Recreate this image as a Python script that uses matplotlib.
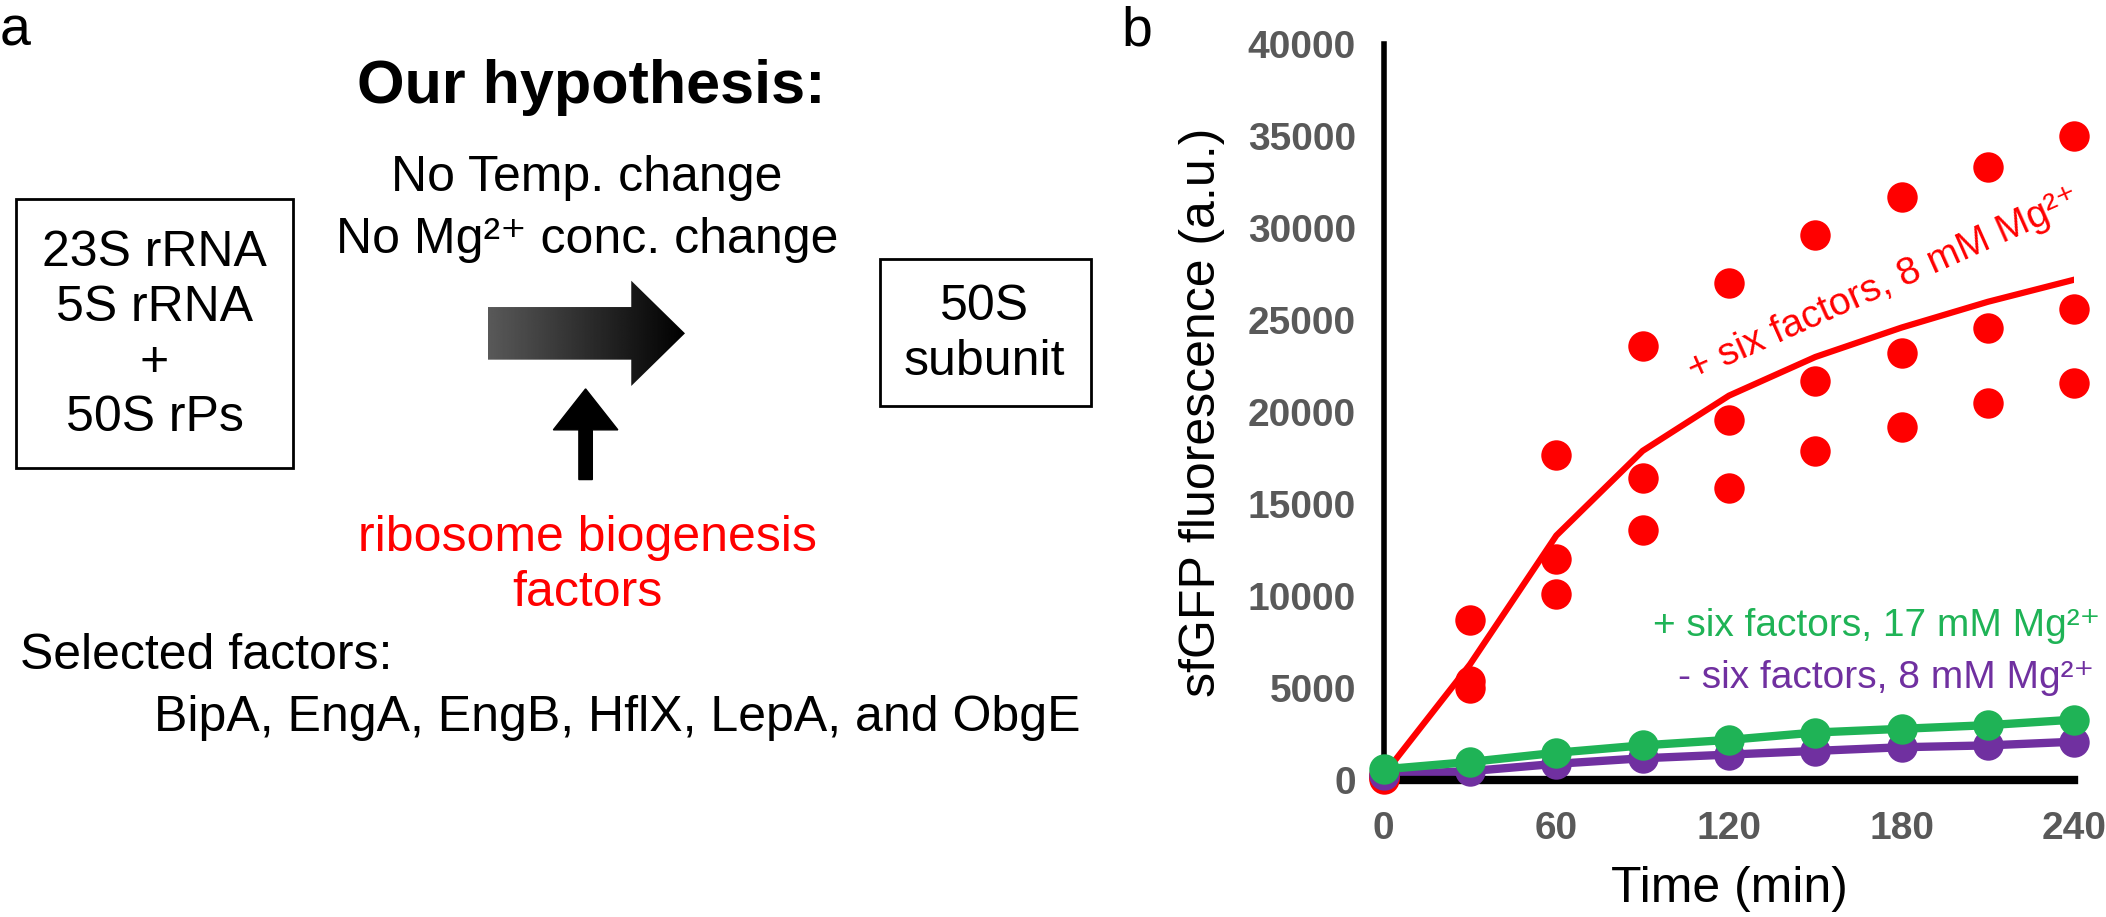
import matplotlib
matplotlib.use("Agg")
import matplotlib.pyplot as plt
import numpy as np
from matplotlib.patches import Polygon, Rectangle

plt.rcParams['font.family'] = ['Liberation Sans', 'DejaVu Sans']

time = [0, 30, 60, 90, 120, 150, 180, 210, 240]
red_rep1 = [200, 8700, 17700, 23600, 27000, 29600, 31700, 33300, 35000]
red_rep2 = [300, 5400, 12000, 16400, 19600, 21700, 23200, 24600, 25600]
red_rep3 = [100, 5000, 10100, 13600, 15900, 17900, 19200, 20500, 21600]
red_mean = [300, 6300, 13300, 17900, 20900, 23000, 24600, 26000, 27200]
green_vals = [600, 1000, 1500, 1900, 2200, 2600, 2800, 3000, 3300]
purple_vals = [300, 500, 900, 1200, 1400, 1600, 1800, 1900, 2100]
xticks = [0, 60, 120, 180, 240]
yticks = list(range(0, 40001, 5000))

RED = '#ff0000'; GREEN = '#1fb356'; PURPLE = '#7030a0'

fig = plt.figure(figsize=(21.06, 9.17), dpi=100)

# overlay in a 1568 x 1568 normalised frame
ov = fig.add_axes([0, 0, 1, 1])
ov.set_xlim(0, 1568); ov.set_ylim(1568, 0); ov.axis('off')
ov.text(0, 10, 'a', fontsize=40, va='top', ha='left')
ov.text(835, 10, 'b', fontsize=40, va='top', ha='left')
ov.text(440, 150, 'Our hypothesis:', fontsize=44, fontweight='bold', ha='center', va='center')
ov.text(437, 305, 'No Temp. change', fontsize=36, ha='center', va='center')
ov.text(437, 410, 'No Mg²⁺ conc. change', fontsize=36, ha='center', va='center')
ov.add_patch(Rectangle((12, 340), 206, 460, fill=False, lw=2))
ov.text(115, 573, '23S rRNA\n5S rRNA\n+\n50S rPs', fontsize=36, ha='center', va='center', linespacing=1.25)
ov.add_patch(Rectangle((655, 443), 157, 252, fill=False, lw=2))
ov.text(733, 572, '50S\nsubunit', fontsize=36, ha='center', va='center', linespacing=1.25)
# gradient arrow
poly = np.array([[363, 525], [470, 525], [470, 480], [510, 570], [470, 660], [470, 615], [363, 615]])
p = Polygon(poly, closed=True, facecolor='none', edgecolor='none')
ov.add_patch(p)
grad = np.linspace(0.35, 0.0, 256)[None, :]
im = ov.imshow(np.repeat(grad, 2, axis=0), cmap='gray', vmin=0, vmax=1,
               extent=[363, 510, 660, 480], aspect='auto', interpolation='bilinear')
im.set_clip_path(p)
ov.add_patch(Polygon([[431, 820], [441, 820], [441, 735], [460, 735], [436, 665],
                      [412, 735], [431, 735]], closed=True, color='black'))
ov.set_xlim(0, 1568); ov.set_ylim(1568, 0)
ov.text(437, 967, 'ribosome biogenesis\nfactors', color=RED, fontsize=36, ha='center', va='center', linespacing=1.25)
ov.text(15, 1122, 'Selected factors:', fontsize=36, ha='left', va='center')
ov.text(115, 1228, 'BipA, EngA, EngB, HflX, LepA, and ObgE', fontsize=36, ha='left', va='center')

# panel b
ax = fig.add_axes([0.657, 0.149, 0.328, 0.803])
for r in (red_rep1, red_rep2, red_rep3):
    ax.scatter(time, r, color=RED, s=480, zorder=3, clip_on=False, linewidths=0)
ax.plot(time, red_mean, color=RED, lw=4.5, zorder=2)
ax.plot(time, purple_vals, color=PURPLE, lw=6, zorder=2)
ax.scatter(time, purple_vals, color=PURPLE, s=480, zorder=3, clip_on=False, linewidths=0)
ax.plot(time, green_vals, color=GREEN, lw=6, zorder=2)
ax.scatter(time, green_vals, color=GREEN, s=480, zorder=3, clip_on=False, linewidths=0)
ax.set_xlim(0, 240); ax.set_ylim(0, 40000)
ax.set_xticks(xticks); ax.set_yticks(yticks)
for s in ('top', 'right'):
    ax.spines[s].set_visible(False)
ax.spines['left'].set_linewidth(4)
ax.spines['bottom'].set_linewidth(6)
ax.tick_params(length=0, labelsize=28, labelcolor='#595959')
ax.tick_params(axis='y', pad=20)
ax.tick_params(axis='x', pad=22)
for t in ax.get_xticklabels() + ax.get_yticklabels():
    t.set_fontweight('bold')
ax.set_xlabel('Time (min)', fontsize=36, labelpad=14)
ax.set_ylabel('sfGFP fluorescence (a.u.)', fontsize=36, labelpad=16)
ax.text(174, 26900, '+ six factors, 8 mM Mg²⁺', color=RED, fontsize=28,
        rotation=24, rotation_mode='anchor', ha='center', va='center', clip_on=False)
ax.text(249, 8400, '+ six factors, 17 mM Mg²⁺', color=GREEN, fontsize=28, ha='right', va='center', clip_on=False)
ax.text(247, 5550, '- six factors, 8 mM Mg²⁺', color=PURPLE, fontsize=28, ha='right', va='center', clip_on=False)

fig.savefig('out.png', dpi=100)
